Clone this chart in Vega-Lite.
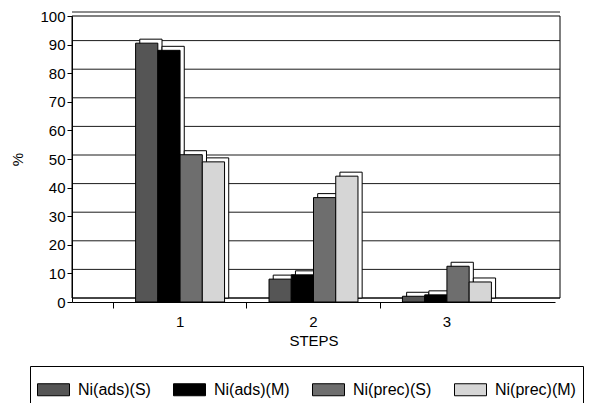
{
  "$schema": "https://vega.github.io/schema/vega-lite/v6.json",
  "width": 483,
  "height": 286,
  "autosize": {"type": "none"},
  "padding": {"left": 72, "top": 16, "right": 36, "bottom": 101},
  "background": "white",
  "config": {
    "view": {"stroke": null},
    "font": "Liberation Sans",
    "axis": {"labelFont": "Liberation Sans", "titleFont": "Liberation Sans", "labelColor": "black", "titleColor": "black", "domainColor": "black", "tickColor": "black", "labelFontSize": 15, "titleFontSize": 15, "titleFontWeight": "normal", "grid": false},
    "legend": {"labelFont": "Liberation Sans", "labelFontSize": 16, "labelColor": "black"}
  },
  "datasets": {
    "bars": [
      {"step": "1", "series": "Ni(ads)(S)", "value": 90.5},
      {"step": "1", "series": "Ni(ads)(M)", "value": 88},
      {"step": "1", "series": "Ni(prec)(S)", "value": 51.5},
      {"step": "1", "series": "Ni(prec)(M)", "value": 49},
      {"step": "2", "series": "Ni(ads)(S)", "value": 8},
      {"step": "2", "series": "Ni(ads)(M)", "value": 9.5},
      {"step": "2", "series": "Ni(prec)(S)", "value": 36.5},
      {"step": "2", "series": "Ni(prec)(M)", "value": 44},
      {"step": "3", "series": "Ni(ads)(S)", "value": 2},
      {"step": "3", "series": "Ni(ads)(M)", "value": 2.5},
      {"step": "3", "series": "Ni(prec)(S)", "value": 12.5},
      {"step": "3", "series": "Ni(prec)(M)", "value": 7}
    ],
    "grid": [{"g": 0}, {"g": 10}, {"g": 20}, {"g": 30}, {"g": 40}, {"g": 50}, {"g": 60}, {"g": 70}, {"g": 80}, {"g": 90}, {"g": 100}],
    "wall": [{"lo": 0, "hi": 100}]
  },
  "resolve": {"scale": {"xOffset": "independent"}},
  "layer": [
    {
      "data": {"name": "wall"},
      "mark": {"type": "rect", "filled": false, "stroke": "black", "strokeWidth": 1, "xOffset": 5, "yOffset": -4},
      "encoding": {
        "y": {"field": "lo", "type": "quantitative", "title": "%", "scale": {"domain": [0, 100]},
          "axis": {"values": [0, 10, 20, 30, 40, 50, 60, 70, 80, 90, 100], "tickSize": 5, "labelPadding": 2, "titlePadding": 14}},
        "y2": {"field": "hi"}
      }
    },
    {
      "data": {"name": "grid"},
      "mark": {"type": "rule", "stroke": "black", "strokeWidth": 0.9, "xOffset": 5, "yOffset": -4},
      "encoding": {
        "y": {"field": "g", "type": "quantitative", "title": "%", "scale": {"domain": [0, 100]},
          "axis": {"values": [0, 10, 20, 30, 40, 50, 60, 70, 80, 90, 100], "tickSize": 5, "labelPadding": 2, "titlePadding": 14}}
      }
    },
    {
      "data": {"name": "bars"},
      "mark": {"type": "bar", "fill": "white", "stroke": "black", "strokeWidth": 1, "yOffset": -4},
      "encoding": {
        "x": {"field": "step", "type": "nominal", "title": "STEPS", "scale": {"paddingInner": 0, "paddingOuter": 0.31},
          "axis": {"labelAngle": 0, "bandPosition": 0, "tickSize": 6, "labelPadding": 6, "titlePadding": 4}},
        "xOffset": {"field": "series", "type": "nominal", "sort": ["Ni(ads)(S)", "Ni(ads)(M)", "Ni(prec)(S)", "Ni(prec)(M)"], "scale": {"paddingInner": 0, "paddingOuter": 1.333, "align": 0.594}},
        "y": {"field": "value", "type": "quantitative", "title": "%", "scale": {"domain": [0, 100]},
          "axis": {"values": [0, 10, 20, 30, 40, 50, 60, 70, 80, 90, 100], "tickSize": 5, "labelPadding": 2, "titlePadding": 14}}
      }
    },
    {
      "data": {"name": "bars"},
      "mark": {"type": "bar", "stroke": "black", "strokeWidth": 1},
      "encoding": {
        "x": {"field": "step", "type": "nominal", "title": "STEPS", "scale": {"paddingInner": 0, "paddingOuter": 0.31},
          "axis": {"labelAngle": 0, "bandPosition": 0, "tickSize": 6, "labelPadding": 6, "titlePadding": 4}},
        "xOffset": {"field": "series", "type": "nominal", "sort": ["Ni(ads)(S)", "Ni(ads)(M)", "Ni(prec)(S)", "Ni(prec)(M)"], "scale": {"paddingInner": 0, "paddingOuter": 1.333}},
        "y": {"field": "value", "type": "quantitative", "title": "%", "scale": {"domain": [0, 100]},
          "axis": {"values": [0, 10, 20, 30, 40, 50, 60, 70, 80, 90, 100], "tickSize": 5, "labelPadding": 2, "titlePadding": 14}},
        "color": {"field": "series", "type": "nominal",
          "scale": {"domain": ["Ni(ads)(S)", "Ni(ads)(M)", "Ni(prec)(S)", "Ni(prec)(M)"], "range": ["#555555", "#000000", "#6e6e6e", "#d6d6d6"]},
          "legend": {"title": null, "orient": "none", "direction": "horizontal", "legendX": -42, "legendY": 350,
            "symbolType": "M-1,-0.375H1V0.375H-1Z", "symbolSize": 1024, "symbolStrokeColor": "black", "symbolStrokeWidth": 1,
            "symbolOpacity": 1, "columnPadding": 20, "labelOffset": 8, "strokeColor": "black", "padding": 7}}
      }
    }
  ]
}
